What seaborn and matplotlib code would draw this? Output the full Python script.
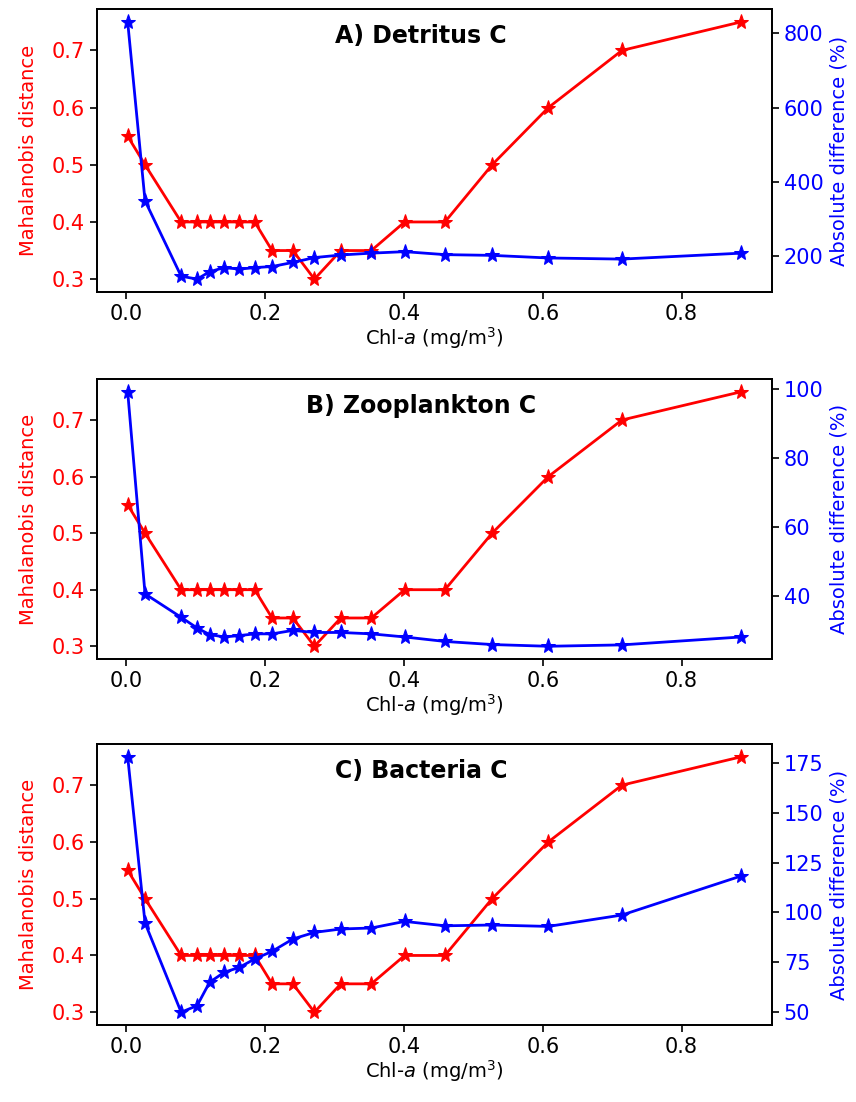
import matplotlib
matplotlib.use("Agg")
import matplotlib.pyplot as plt
import seaborn as sns
import pandas as pd

sns.set_style("ticks")
plt.rcParams["font.family"] = ["DejaVu Sans"]
plt.rcParams["text.color"] = "black"
plt.rcParams["axes.labelcolor"] = "black"
plt.rcParams["xtick.color"] = "black"
plt.rcParams["ytick.color"] = "black"

# ---- data ----
chl = [0.002, 0.027, 0.079, 0.102, 0.120, 0.141, 0.163, 0.185, 0.210, 0.240,
       0.271, 0.309, 0.353, 0.401, 0.459, 0.527, 0.608, 0.714, 0.886]
mahalanobis = [0.55, 0.50, 0.40, 0.40, 0.40, 0.40, 0.40, 0.40, 0.35, 0.35,
               0.30, 0.35, 0.35, 0.40, 0.40, 0.50, 0.60, 0.70, 0.75]
detritus = [831, 349, 146, 138, 158, 169, 165, 169, 172, 183,
            196, 203, 208, 212, 204, 202, 195, 192, 208]
zooplankton = [99.1, 40.5, 33.7, 30.6, 28.7, 28.0, 28.4, 28.9, 28.9, 29.9,
               29.3, 29.3, 28.9, 28.0, 26.7, 25.8, 25.3, 25.7, 28.0]
bacteria = [178, 94.7, 50, 53.3, 65, 70, 72.5, 76.7, 80.5, 86.7,
            90, 91.7, 92.2, 95.5, 93.3, 93.7, 93, 98.7, 118.3]

titles = ["A) Detritus C", "B) Zooplankton C", "C) Bacteria C"]
right_series = [detritus, zooplankton, bacteria]
right_ticks = [[200, 400, 600, 800], [40, 60, 80, 100], [50, 75, 100, 125, 150, 175]]

W, H = 856, 1102
fig = plt.figure(figsize=(W / 100, H / 100), dpi=100)

# axes boxes in pixels: (left, top, right, bottom)
boxes = [(97, 9, 772, 292), (97, 379, 772, 659), (97, 744, 772, 1025)]

tfs = 15
lfs = 14
for (l, t, r, b), title, series, rt in zip(boxes, titles, right_series, right_ticks):
    ax = fig.add_axes([l / W, 1 - b / H, (r - l) / W, (b - t) / H])
    df = pd.DataFrame({"chl": chl, "maha": mahalanobis, "diff": series})
    sns.lineplot(data=df, x="chl", y="maha", ax=ax, color="red", marker="*",
                 markersize=11, markeredgecolor="red", linewidth=2)
    ax2 = ax.twinx()
    sns.lineplot(data=df, x="chl", y="diff", ax=ax2, color="blue", marker="*",
                 markersize=11, markeredgecolor="blue", linewidth=2)

    ax.set_xticks([0.0, 0.2, 0.4, 0.6, 0.8])
    ax.set_yticks([0.3, 0.4, 0.5, 0.6, 0.7])
    ax2.set_yticks(rt)

    ax.set_xlabel("Chl-$a$ (mg/m$^3$)", fontsize=lfs, labelpad=1)
    ax.set_ylabel("Mahalanobis distance", color="red", fontsize=lfs, labelpad=10)
    ax2.set_ylabel("Absolute difference (%)", color="blue", fontsize=lfs, labelpad=4)

    ax.tick_params(axis="x", labelsize=tfs, length=5, width=1.2)
    ax.tick_params(axis="y", labelsize=tfs, labelcolor="red", length=5, width=1.2)
    ax2.tick_params(axis="y", labelsize=tfs, labelcolor="blue", length=5, width=1.2)
    for a in (ax, ax2):
        for s in a.spines.values():
            s.set_linewidth(1.3)
            s.set_color("black")

    ax.text(0.48, 0.905, title, transform=ax.transAxes, ha="center", va="center",
            fontsize=17, fontweight="bold", color="black")

fig.savefig("out.png", dpi=100)
